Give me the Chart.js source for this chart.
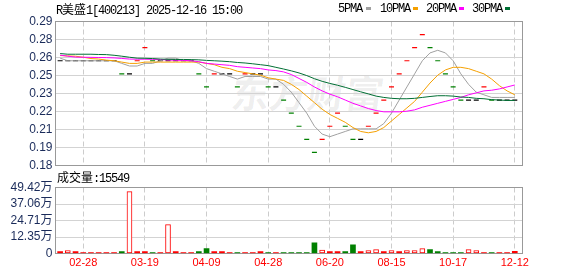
<!DOCTYPE html>
<html>
<head>
<meta charset="utf-8">
<script src="https://cdn.jsdelivr.net/npm/chart.js@4.4.1/dist/chart.umd.min.js"></script>
<style>
  body { margin: 0; width: 578px; height: 276px; overflow: hidden; position: relative; background: #fff; }
  canvas { position: absolute; left: 0; }
  #kline { top: 0; z-index: 2; }
  #vol { top: 170px; z-index: 2; }
  .txt { position: absolute; z-index: 3; white-space: nowrap; color: #000;
         font: 12px 'Liberation Mono', monospace; letter-spacing: -1.2px; line-height: 14px; }
  .cj { font-family: 'Noto Sans CJK SC', sans-serif; letter-spacing: 0; }
  .key { position: absolute; z-index: 3; width: 5px; height: 3px; top: 7px; }
  #mark { position: absolute; z-index: 1; left: 232px; top: 64px; color: rgba(0,0,0,0.07);
          font: bold 38px 'Noto Sans CJK SC', sans-serif; transform: skewX(-8deg); }
</style>
</head>
<body>
<div id="mark">东方财富</div>
<div class="txt" style="left:56px;top:2px">R<span class="cj">美盛</span>1[400213] 2025-12-16 15:00</div>
<div class="txt" style="left:338px;top:2px">5PMA</div>
<div class="key" style="left:366px;background:#a0a0a0"></div>
<div class="txt" style="left:380px;top:2px">10PMA</div>
<div class="key" style="left:413px;background:#f5a000"></div>
<div class="txt" style="left:426px;top:2px">20PMA</div>
<div class="key" style="left:459px;background:#ff00ff"></div>
<div class="txt" style="left:472px;top:2px">30PMA</div>
<div class="key" style="left:505px;background:#006f34"></div>
<div class="txt" style="left:57px;top:170px"><span class="cj">成交量</span>:15549</div>

<canvas id="kline" width="578" height="180"></canvas>
<canvas id="vol" width="578" height="106"></canvas>

<script>
// trading days are indexed 0..59, ticks every 8 days
const tickDays = [3, 11, 19, 27, 35, 43, 51, 59];
const tickLabels = ['02-28', '03-19', '04-09', '04-28', '06-20', '08-15', '10-17', '12-12'];

const priceTicks = [0.18, 0.19375, 0.2075, 0.22125, 0.235, 0.24875, 0.2625, 0.27625, 0.29];
const priceLabels = ['0.18', '0.19', '0.21', '0.22', '0.23', '0.25', '0.26', '0.28', '0.29'];

const volTicks = [0, 123550, 247100, 370650, 494200];
const volLabels = ['0', '12.35万', '24.71万', '37.06万', '49.42万'];

const close = [
  0.26, 0.26, 0.26, 0.26, 0.26, 0.26, 0.26, 0.26, 0.25, 0.25,
  0.26, 0.27, 0.26, 0.26, 0.26, 0.26, 0.26, 0.26, 0.25, 0.24,
  0.25, 0.25, 0.25, 0.24, 0.25, 0.25, 0.25, 0.24, 0.24, 0.23,
  0.22, 0.21, 0.20, 0.19, 0.20, 0.21, 0.22, 0.21, 0.20, 0.20,
  0.21, 0.22, 0.23, 0.24, 0.25, 0.26, 0.27, 0.28, 0.27, 0.26,
  0.25, 0.24, 0.23, 0.23, 0.23, 0.24, 0.23, 0.23, 0.23, 0.23
];
// r = up, g = down, k = unchanged
const closeColor = [
  'k','k','k','k','k','k','k','k','g','k',
  'r','r','g','k','k','k','k','k','g','g',
  'r','k','k','g','r','k','k','g','k','g',
  'g','g','g','g','r','r','r','g','g','k',
  'r','r','r','r','r','r','r','r','g','g',
  'g','g','g','k','k','r','g','k','k','k'
];

const ma5 = [
  0.262, 0.26, 0.26, 0.26, 0.26, 0.26, 0.26, 0.26, 0.258, 0.256,
  0.256, 0.258, 0.258, 0.26, 0.262, 0.262, 0.26, 0.26, 0.258, 0.254,
  0.252, 0.25, 0.248, 0.246, 0.248, 0.248, 0.248, 0.246, 0.246, 0.242,
  0.236, 0.228, 0.22, 0.21, 0.204, 0.202, 0.204, 0.206, 0.208, 0.208,
  0.208, 0.208, 0.212, 0.22, 0.23, 0.24, 0.25, 0.26, 0.266, 0.268,
  0.266, 0.26, 0.25, 0.242, 0.236, 0.234, 0.232, 0.232, 0.232, 0.232
];
const ma10 = [
  0.2640, 0.2637, 0.2635, 0.2627, 0.2617, 0.2613, 0.2605, 0.2600, 0.2590, 0.258,
  0.258, 0.259, 0.259, 0.259, 0.259, 0.259, 0.259, 0.259, 0.259, 0.258,
  0.257, 0.255, 0.254, 0.252, 0.251, 0.250, 0.249, 0.247, 0.246, 0.245,
  0.242, 0.238, 0.233, 0.228, 0.223, 0.219, 0.216, 0.213, 0.209, 0.206,
  0.205, 0.206, 0.209, 0.214, 0.219, 0.224, 0.229, 0.236, 0.243, 0.249,
  0.253, 0.255, 0.255, 0.254, 0.252, 0.250, 0.246, 0.241, 0.237, 0.234
];
const ma20 = [
  0.2643, 0.2635, 0.2628, 0.2627, 0.2626, 0.2625, 0.2624, 0.2622, 0.2618, 0.2613,
  0.2612, 0.2612, 0.2611, 0.2610, 0.2606, 0.2604, 0.2603, 0.2600, 0.2593, 0.2580,
  0.2575, 0.2570, 0.2565, 0.2555, 0.2550, 0.2545, 0.2540, 0.2530, 0.2525, 0.2515,
  0.2495, 0.2465, 0.2435, 0.2400, 0.2370, 0.2345, 0.2325, 0.2300, 0.2275, 0.2255,
  0.2235, 0.2220, 0.2210, 0.2210, 0.2210, 0.2215, 0.2225, 0.2245, 0.2260, 0.2275,
  0.2290, 0.2305, 0.2320, 0.2340, 0.2355, 0.2370, 0.2375, 0.2385, 0.2400, 0.2415
];
const ma30 = [
  0.2655, 0.2650, 0.2650, 0.2650, 0.2650, 0.2648, 0.2647, 0.2642, 0.2635, 0.2627,
  0.2620, 0.2619, 0.2617, 0.2613, 0.2611, 0.2610, 0.2610, 0.2609, 0.2607, 0.2603,
  0.2600, 0.2597, 0.2593, 0.2587, 0.2583, 0.2577, 0.2570, 0.2563, 0.2550, 0.2537,
  0.2523, 0.2507, 0.2487, 0.2463, 0.2443, 0.2427, 0.2413, 0.2397, 0.2380, 0.2363,
  0.2347, 0.2330, 0.2320, 0.2313, 0.2310, 0.2310, 0.2313, 0.2320, 0.2327, 0.2333,
  0.2333, 0.2330, 0.2323, 0.2320, 0.2313, 0.2310, 0.2303, 0.2300, 0.2297, 0.2297
];

const volume = [
  14600, 21900, 14400, 7400, 7200, 7500, 7300, 7600, 14500, 463000,
  14700, 14300, 7400, 7800, 216000, 14600, 7300, 7500, 14400, 36200,
  14800, 14500, 7300, 7600, 7400, 7200, 14300, 7500, 7400, 7300,
  7500, 7400, 7300, 80100, 26300, 14600, 14500, 14700, 65200, 14400,
  21700, 29100, 14500, 21900, 14600, 21800, 22100, 36400, 29300, 14500,
  7400, 7300, 7500, 28900, 21800, 7600, 7400, 7300, 7500, 15549
];
// r = red bar, h = hollow red bar, g = green bar
const volStyle = [
  'r','h','r','r','r','r','r','r','g','h',
  'r','r','g','r','h','r','r','r','g','g',
  'r','r','r','g','r','r','r','g','r','g',
  'g','g','g','g','h','r','r','g','g','r',
  'h','h','r','h','r','h','h','h','g','g',
  'g','g','g','h','h','r','g','r','r','r'
];

const RED = '#ff0000';
const GREEN = '#008000';
const candleColors = { r: RED, g: GREEN, k: '#000000' };

Chart.defaults.font.family = "'Liberation Sans', 'Noto Sans CJK SC', sans-serif";

const xy = arr => arr.map((v, i) => ({ x: i, y: v }));

const frame = {
  id: 'frame',
  beforeDatasetsDraw(chart) {
    const a = chart.chartArea;
    const ctx = chart.ctx;
    ctx.save();
    ctx.strokeStyle = '#999999';
    ctx.lineWidth = 1;
    ctx.strokeRect(a.left, a.top, a.right - a.left, a.bottom - a.top);
    ctx.restore();
  }
};

const xScale = (showLabels) => ({
  type: 'linear',
  min: -0.6,
  max: 60,
  offset: false,
  afterBuildTicks: s => { s.ticks = tickDays.map(v => ({ value: v })); },
  ticks: {
    display: showLabels,
    autoSkip: false,
    maxRotation: 0,
    padding: 3,
    color: RED,
    font: { size: 11 },
    callback: (v, i) => tickLabels[i]
  },
  grid: { color: '#cccccc', drawTicks: false, offset: false },
  border: { display: false, dash: [5, 3] }
});

const yScale = (min, max, values, labels) => ({
  min,
  max,
  afterBuildTicks: s => { s.ticks = values.map(v => ({ value: v })); },
  afterFit: s => { s.width = 55.5; },
  ticks: {
    autoSkip: false,
    padding: 3,
    color: '#1a2b5a',
    font: { size: 12 },
    callback: (v, i) => labels[i]
  },
  grid: { color: '#d3d3d3', drawTicks: false },
  border: { display: false }
});

const lineSet = (label, arr, color, order) => ({
  type: 'line',
  label,
  data: xy(arr),
  borderColor: color,
  borderWidth: 1,
  pointRadius: 0,
  tension: 0,
  order
});

new Chart(document.getElementById('kline'), {
  type: 'line',
  data: {
    datasets: [
      {
        label: 'close',
        data: xy(close),
        showLine: false,
        pointStyle: 'line',
        pointRadius: 2.5,
        pointBorderWidth: 1.2,
        pointBorderColor: closeColor.map(c => candleColors[c]),
        order: 10
      },
      lineSet('5PMA', ma5, '#a0a0a0', 4),
      lineSet('10PMA', ma10, '#f5a000', 3),
      lineSet('20PMA', ma20, '#ff00ff', 2),
      lineSet('30PMA', ma30, '#006f34', 1)
    ]
  },
  options: {
    responsive: false,
    animation: false,
    events: [],
    layout: { padding: { top: 21.5, right: 55.5, bottom: 14.5, left: 0 } },
    plugins: { legend: { display: false }, tooltip: { enabled: false } },
    scales: {
      x: xScale(false),
      y: yScale(0.18, 0.29, priceTicks, priceLabels)
    }
  },
  plugins: [frame]
});

new Chart(document.getElementById('vol'), {
  type: 'bar',
  data: {
    datasets: [{
      label: 'volume',
      data: xy(volume),
      barThickness: 5,
      backgroundColor: volStyle.map(s => s === 'h' ? '#ffffff' : (s === 'g' ? GREEN : RED)),
      borderColor: volStyle.map(s => s === 'g' ? GREEN : RED),
      borderWidth: volStyle.map(s => s === 'h' ? 1 : 0),
      borderSkipped: false
    }]
  },
  options: {
    responsive: false,
    animation: false,
    events: [],
    layout: { padding: { top: 17.5, right: 55.5, bottom: 3.3, left: 0 } },
    plugins: { legend: { display: false }, tooltip: { enabled: false } },
    scales: {
      x: xScale(true),
      y: yScale(0, 494200, volTicks, volLabels)
    }
  },
  plugins: [frame]
});
</script>
</body>
</html>
